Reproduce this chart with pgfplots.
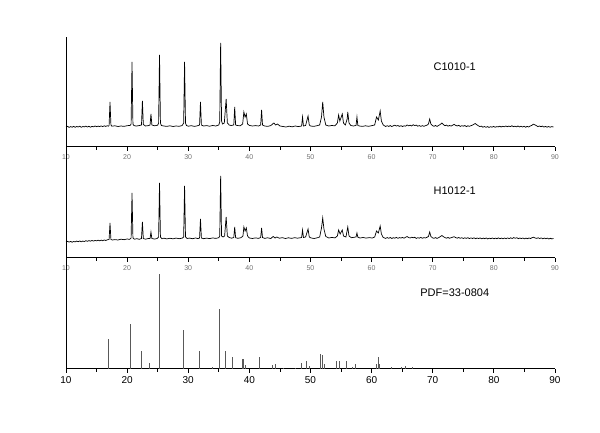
\documentclass[border=0pt]{standalone}
\usepackage{fontspec}
\setmainfont{Liberation Sans}
\usepackage{pgfplots}
\pgfplotsset{compat=1.18}
\begin{document}
\begin{tikzpicture}[x=1pt,y=1pt]
\useasboundingbox (0,0) rectangle (600,433);
\pgfplotsset{xrd/.style={scale only axis, width=489pt, xmin=10, xmax=90, ymin=0,
  axis x line*=bottom, axis y line*=left, ytick=\empty,
  xtick={10,20,...,90}, minor xtick={15,25,...,85},
  tick align=outside, major tick length=4pt, minor tick length=3pt,
  axis line style={line width=1pt}, every tick/.style={black, line width=0.8pt},
  /pgf/number format/assume math mode=true, clip=false}}
% ---------- top panel ----------
\begin{axis}[xrd, at={(66pt,286pt)}, anchor=south west, height=110pt, ymax=110,
  tick label style={font=\fontsize{7}{8}\selectfont, text=black!55}]
\addplot[black, line width=0.7pt] coordinates {
(10,20)(10.25,20.7)(10.5,19.6)(10.75,20.4)(11,19.8)(11.25,20.6)(11.5,19.7)(11.75,20.5)(12,20)(12.25,20.8)(12.5,19.7)(12.75,20.5)(13,20.1)(13.25,20.9)(13.5,20)(13.75,20.7)(14,19.8)(14.25,20.6)(14.5,20.2)(14.75,21)(15,20.3)(15.25,20.9)(15.5,20.4)(15.75,21.1)(16,20.4)(16.25,21.2)(16.5,20.6)(16.75,21.3)(16.95,20.8)(17.05,21.5)(17.2,45)(17.35,22)(17.5,20.8)(18,21.2)(18.5,20.5)(19,21)(19.5,20.6)(20,21.3)(20.5,21.6)(20.65,23)(20.8,85)(20.95,23)(21.1,21.5)(21.5,20.9)(22,21.5)(22.35,22)(22.5,46)(22.65,22.5)(23,21)(23.5,21.4)(23.75,22)(23.9,33)(24.05,22)(24.5,21.2)(25,21.8)(25.15,24)(25.3,92)(25.45,24)(25.6,21.5)(26,21)(26.5,20.6)(27,21.2)(27.5,20.5)(28,21)(28.5,20.7)(29,21.4)(29.25,24)(29.4,85)(29.55,24)(29.7,21.5)(30,20.8)(30.5,21.3)(31,20.6)(31.5,21.2)(31.85,22)(32,45)(32.15,22)(32.5,21)(33,21.4)(33.5,20.8)(34,21.5)(34.5,21)(35,22)(35.15,25)(35.3,104)(35.45,26)(35.6,23)(35.9,24)(36.2,48)(36.4,24)(36.7,22)(37,21.5)(37.45,22)(37.6,40)(37.75,22)(38,21.5)(38.5,21.2)(38.9,23)(39.1,35)(39.3,30)(39.5,33)(39.7,23)(40,21.6)(40.5,21)(41,21.4)(41.5,21)(41.85,22)(42,37)(42.15,22)(42.5,21)(43,20.6)(43.5,21.4)(44,24)(44.3,22)(44.6,23)(45,21)(45.5,20.5)(46,20)(46.5,20.8)(47,20.2)(47.5,21)(48,20.4)(48.55,21)(48.7,30)(48.85,21)(49.2,21.5)(49.6,31)(49.8,22)(50,21)(50.5,20.6)(51,21.2)(51.5,22)(51.8,30)(52,45)(52.2,30)(52.5,22)(53,21)(53.5,21.5)(54,21.2)(54.4,24)(54.6,32)(54.8,26)(55.2,33)(55.4,24)(55.7,22)(56,28)(56.1,35)(56.3,24)(56.6,21.5)(57,21)(57.45,21.5)(57.6,30)(57.75,21.5)(58,21)(58.5,20.6)(59,21.2)(59.5,20.7)(60,21.3)(60.5,22)(60.8,30)(61.1,27)(61.4,36)(61.6,26)(61.9,22)
(62.3,20.5)(62.55,21.3)(62.8,20.6)(63.05,21.4)(63.3,20.4)(63.55,21.2)(63.8,21.8)(64.05,20.9)(64.3,21.5)(64.55,20.6)(64.8,21.3)(65.05,20.5)(65.3,21.2)(65.55,20.8)(65.8,22)(66.05,21.2)(66.3,21.8)(66.55,21)(66.8,22.3)(67.05,21.4)(67.3,21.9)(67.55,20.8)(67.8,21.4)(68.05,20.6)(68.3,21.4)(68.55,20.7)(68.8,21.3)(69.05,21.8)(69.3,23)(69.5,28)(69.7,23)(69.95,21.4)(70.2,20.7)(70.45,21.5)(70.7,20.6)(70.95,21.6)(71.2,22.4)(71.5,24)(71.75,22.3)(72,21.3)(72.25,21.9)(72.5,20.8)(72.75,21.5)(73,20.9)(73.25,21.8)(73.5,22.6)(73.75,21.6)(74,21)(74.25,21.7)(74.5,20.6)(74.75,21.3)(75,20.8)(75.25,21.5)(75.5,20.4)(75.75,21.2)(76,20.7)(76.25,21.3)(76.5,21.9)(76.75,22.8)(76.95,23.5)(77.2,22.3)(77.45,21.3)(77.7,20.4)(77.95,20.9)(78.2,19.8)(78.45,20.5)(78.7,19.7)(78.95,20.4)(79.2,19.6)(79.45,20.3)(79.7,19.8)(79.95,20.6)(80.2,19.7)(80.45,20.4)(80.7,20.1)(80.95,20.8)(81.2,20)(81.45,20.7)(81.7,20.2)(81.95,21)(82.2,20.3)(82.45,20.9)(82.7,20.4)(82.95,21.2)(83.2,20.3)(83.45,20.8)(83.7,20.2)(83.95,21)(84.2,20.1)(84.45,20.8)(84.7,20)(84.95,20.7)(85.2,19.8)(85.45,20.6)(85.7,20)(85.95,21)(86.2,21.6)(86.45,22.8)(86.7,22.2)(86.95,21.4)(87.2,20.4)(87.45,21)(87.7,20.3)(87.95,20.9)(88.2,19.9)(88.45,20.6)(88.7,19.8)(88.95,20.5)(89.2,19.8)(89.45,20.4)(89.75,20)
};
\node[font=\fontsize{11}{13}\selectfont] at (axis cs:73.6,80.3) {C1010-1};
\end{axis}
% ---------- middle panel ----------
\begin{axis}[xrd, at={(66pt,175pt)}, anchor=south west, height=111pt, ymax=111,
  tick label style={font=\fontsize{7}{8}\selectfont, text=black!55}]
\addplot[black, line width=0.7pt] coordinates {
(10,16)(10.25,16.7)(10.5,15.9)(10.75,16.6)(11,15.8)(11.25,16.5)(11.5,16.1)(11.75,16.9)(12,16.3)(12.25,17)(12.5,16.2)(12.75,16.9)(13,16.5)(13.25,17.3)(13.5,16.7)(13.75,17.4)(14,16.8)(14.25,17.5)(14.5,16.9)(14.75,17.6)(15,17.1)(15.25,17.8)(15.5,17.2)(15.75,17.9)(16,17.3)(16.25,18)(16.5,17.5)(16.75,18.2)(17.05,18.5)(17.2,35)(17.35,18.5)(17.6,18)(18,18.4)(18.5,18)(19,18.8)(19.5,18.3)(20,19)(20.4,18.6)(20.65,20)(20.8,65)(20.95,20)(21.2,18.8)(21.6,19.3)(22,18.7)(22.35,19.5)(22.5,36)(22.65,19.5)(23,18.8)(23.4,19.4)(23.75,19.5)(23.9,26)(24.05,19.5)(24.5,18.9)(24.9,19.5)(25.15,21)(25.3,75)(25.45,21)(25.7,19.2)(26,19.8)(26.5,19.1)(27,19.7)(27.5,19.2)(28,19.9)(28.5,19.3)(29,19.8)(29.25,21)(29.4,72)(29.55,21)(29.8,19.5)(30.2,19.9)(30.7,19.3)(31.2,20)(31.6,19.4)(31.85,20)(32,39)(32.15,20)(32.5,19.3)(33,19.9)(33.5,19.4)(34,20.1)(34.5,19.6)(35,20.3)(35.15,22)(35.3,82)(35.45,22)(35.7,21)(35.95,22)(36.2,41)(36.4,22)(36.7,20.5)(37.1,19.8)(37.45,20.5)(37.6,31)(37.75,20.3)(38.1,19.7)(38.6,20.2)(38.95,22)(39.1,31)(39.3,27)(39.5,30)(39.7,22)(40,20)(40.5,19.5)(41,20.1)(41.5,19.6)(41.85,20.5)(42,30)(42.15,20.5)(42.5,19.6)(43,20.2)(43.5,19.5)(43.9,21.5)(44.2,20)(44.5,21)(44.9,19.8)(45.4,20.3)(45.9,19.5)(46.4,20.2)(46.9,19.6)(47.4,20.3)(47.9,19.8)(48.55,20.5)(48.7,28)(48.85,20.5)(49.2,21)(49.6,29)(49.8,21)(50.1,20)(50.6,19.5)(51.1,20.2)(51.5,21)(51.8,30)(52,40)(52.2,29)(52.5,21.5)(53,20)(53.5,20.6)(54,20.1)(54.4,22)(54.6,28)(54.85,24)(55.2,28)(55.4,22)(55.8,21)(56.1,31)(56.3,22)(56.7,20.3)(57.2,20.8)(57.45,21)(57.6,25)(57.75,20.8)(58.1,20)(58.6,20.5)(59.1,19.9)(59.6,20.4)(60.1,20)(60.5,21)(60.8,27)(61.1,25)(61.4,32)(61.6,24)(61.9,20.5)
(62.3,19.6)(62.55,20.4)(62.8,19.7)(63.05,20.5)(63.3,19.5)(63.55,20.3)(63.8,19.8)(64.05,20.6)(64.3,19.7)(64.55,20.4)(64.8,19.9)(65.05,20.6)(65.3,19.8)(65.55,20.7)(65.8,21.5)(66.05,20.5)(66.3,20)(66.55,20.8)(66.8,20.2)(67.05,20.7)(67.3,19.6)(67.55,20.3)(67.8,19.8)(68.05,20.6)(68.3,19.7)(68.55,20.4)(68.8,20)(69.05,20.7)(69.3,21.5)(69.5,26)(69.7,21.5)(69.95,20.2)(70.2,19.7)(70.45,20.4)(70.7,19.6)(70.95,20.3)(71.2,21.2)(71.5,22.5)(71.75,21.3)(72,20.4)(72.25,19.8)(72.5,20.5)(72.75,19.7)(73,20.3)(73.25,20.8)(73.5,21.3)(73.75,20.4)(74,19.8)(74.25,20.5)(74.5,19.7)(74.75,20.3)(75,19.5)(75.25,20.2)(75.5,19.6)(75.75,20.3)(76,19.4)(76.25,20.1)(76.5,19.5)(76.75,20.2)(77,19.3)(77.25,20)(77.5,19.4)(77.75,20.1)(78,19.2)(78.25,19.9)(78.5,19.3)(78.75,20)(79,19.1)(79.25,19.8)(79.5,19.3)(79.75,20)(80,19.2)(80.25,19.9)(80.5,19.3)(80.75,20.1)(81,19.3)(81.25,19.9)(81.5,19.2)(81.75,20)(82,19.3)(82.25,20.1)(82.5,19.4)(82.75,20.2)(83,19.5)(83.25,20.4)(83.5,19.7)(83.75,20.3)(84,19.3)(84.25,20)(84.5,19.4)(84.75,20)(85,19.2)(85.25,19.9)(85.5,19.3)(85.75,20)(86,19.5)(86.25,20.3)(86.5,20.8)(86.75,20)(87,19.6)(87.25,20.2)(87.5,19.5)(87.75,20.1)(88,19.2)(88.25,19.9)(88.5,19.3)(88.75,19.9)(89,19)(89.25,19.7)(89.5,19.1)(89.75,19.5)
};
\node[font=\fontsize{11}{13}\selectfont] at (axis cs:73.6,67.3) {H1012-1};
\end{axis}
% ---------- bottom panel ----------
\begin{axis}[xrd, at={(66pt,64pt)}, anchor=south west, height=111pt, ymax=111,
  tick label style={font=\fontsize{10}{12}\selectfont, text=black}]
\addplot[ycomb, black!65, line width=0.8pt] coordinates {
(17.0,30)(20.5,45)(22.4,18)(23.7,6)(25.3,95)(29.2,39)(31.9,18)(34.0,2)(35.1,60)(36.0,18)(37.3,12)(38.8,10)(39.0,10)(39.4,4)(41.6,12)(43.7,4)(44.3,5)(45.6,1)(47.5,1)(48.5,6)(49.4,8)(49.9,3)(51.7,15)(51.9,14)(52.2,5)(54.2,8)(54.7,8)(55.8,8)(56.8,2)(57.4,5)(60.7,5)(61.1,12)(61.3,5)(63.2,2)(64.8,2)(65.5,3)(66.7,2)
};
\node[font=\fontsize{11}{13}\selectfont] at (axis cs:73.6,76.3) {PDF=33-0804};
\end{axis}
\end{tikzpicture}
\end{document}
